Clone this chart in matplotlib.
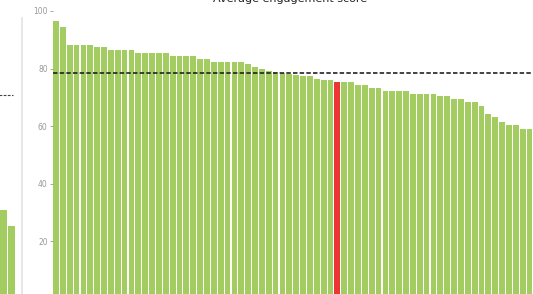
import numpy as np
import matplotlib
matplotlib.use("Agg")
import matplotlib.pyplot as plt

plt.rcParams['lines.scale_dashes'] = False
plt.rcParams['font.family'] = ['DejaVu Sans']

# main panel: one value per bar, sorted high to low
scores = [96.6, 94.5, 88.3, 88.3, 88.3, 88.3, 87.5, 87.5, 86.5, 86.5,
          86.5, 86.5, 85.3, 85.3, 85.3, 85.3, 85.3, 84.3, 84.3, 84.3,
          84.3, 83.4, 83.4, 82.3, 82.3, 82.3, 82.3, 82.3, 81.5, 80.6,
          79.7, 79.1, 78.7, 78.5, 78.2, 77.8, 77.3, 77.3, 76.5, 75.9,
          75.9, 75.5, 75.4, 75.4, 74.4, 74.4, 73.3, 73.3, 72.1, 72.1,
          72.1, 72.1, 71.3, 71.3, 71.3, 71.3, 70.4, 70.4, 69.4, 69.4,
          68.3, 68.3, 67.1, 64.2, 63.1, 61.4, 60.3, 60.3, 59.2, 59.2]
highlight = 41
benchmark = 78.6
yticks = [20, 40, 60, 80, 100]

# left (cropped) panel
left_vals = [30.9, 25.3]
left_ref = 70.8

GREEN = '#a3cd60'
RED = '#ee3535'

fig = plt.figure(figsize=(5.33, 2.94), dpi=100)
W, H = 533, 294

def px_axes(x0, x1, ytop, ybot):
    return fig.add_axes([x0 / W, (H - ybot) / H, (x1 - x0) / W, (ybot - ytop) / H])

# main chart
ax = px_axes(52.5, 533, 11, 299)
n = len(scores)
colors = [RED if i == highlight else GREEN for i in range(n)]
ax.bar(np.arange(n), scores, width=0.84, color=colors, linewidth=0)
ax.axhline(benchmark, color='#222222', lw=1.2, dashes=(3.2, 1.6))
ax.set_xlim(-0.5, n - 0.5)
ax.set_ylim(0, 100)
ax.set_yticks(yticks)
ax.set_yticklabels([str(t) for t in yticks])
ax.set_xticks([])
ax.tick_params(axis='y', labelsize=5.5, colors='#999999', length=2, width=0.6, pad=1.5)
for s in ax.spines.values():
    s.set_visible(False)

# left partial panel
ax2 = px_axes(-8, 22, 11, 299)
ax2.bar(np.arange(len(left_vals)), left_vals, width=0.88, color=GREEN, linewidth=0)
ax2.axhline(left_ref, xmin=0, xmax=0.7, color='#444444', lw=0.8, dashes=(2, 1))
ax2.set_xlim(-1.5, 2.4)
ax2.set_ylim(0, 100)
ax2.set_xticks([])
ax2.set_yticks([])
for k, s in ax2.spines.items():
    s.set_visible(k == 'right')
ax2.spines['right'].set_color('#e2e2e2')
ax2.spines['right'].set_linewidth(1.2)
ax2.spines['right'].set_bounds(0, 97.5)

# title, mostly cropped above the picture as in the reference
fig.text(0.545, 1 - 2 / H, "Average engagement score", ha='center', va='baseline',
         fontsize=8, color='#222222')

fig.savefig("out.png", dpi=100)
